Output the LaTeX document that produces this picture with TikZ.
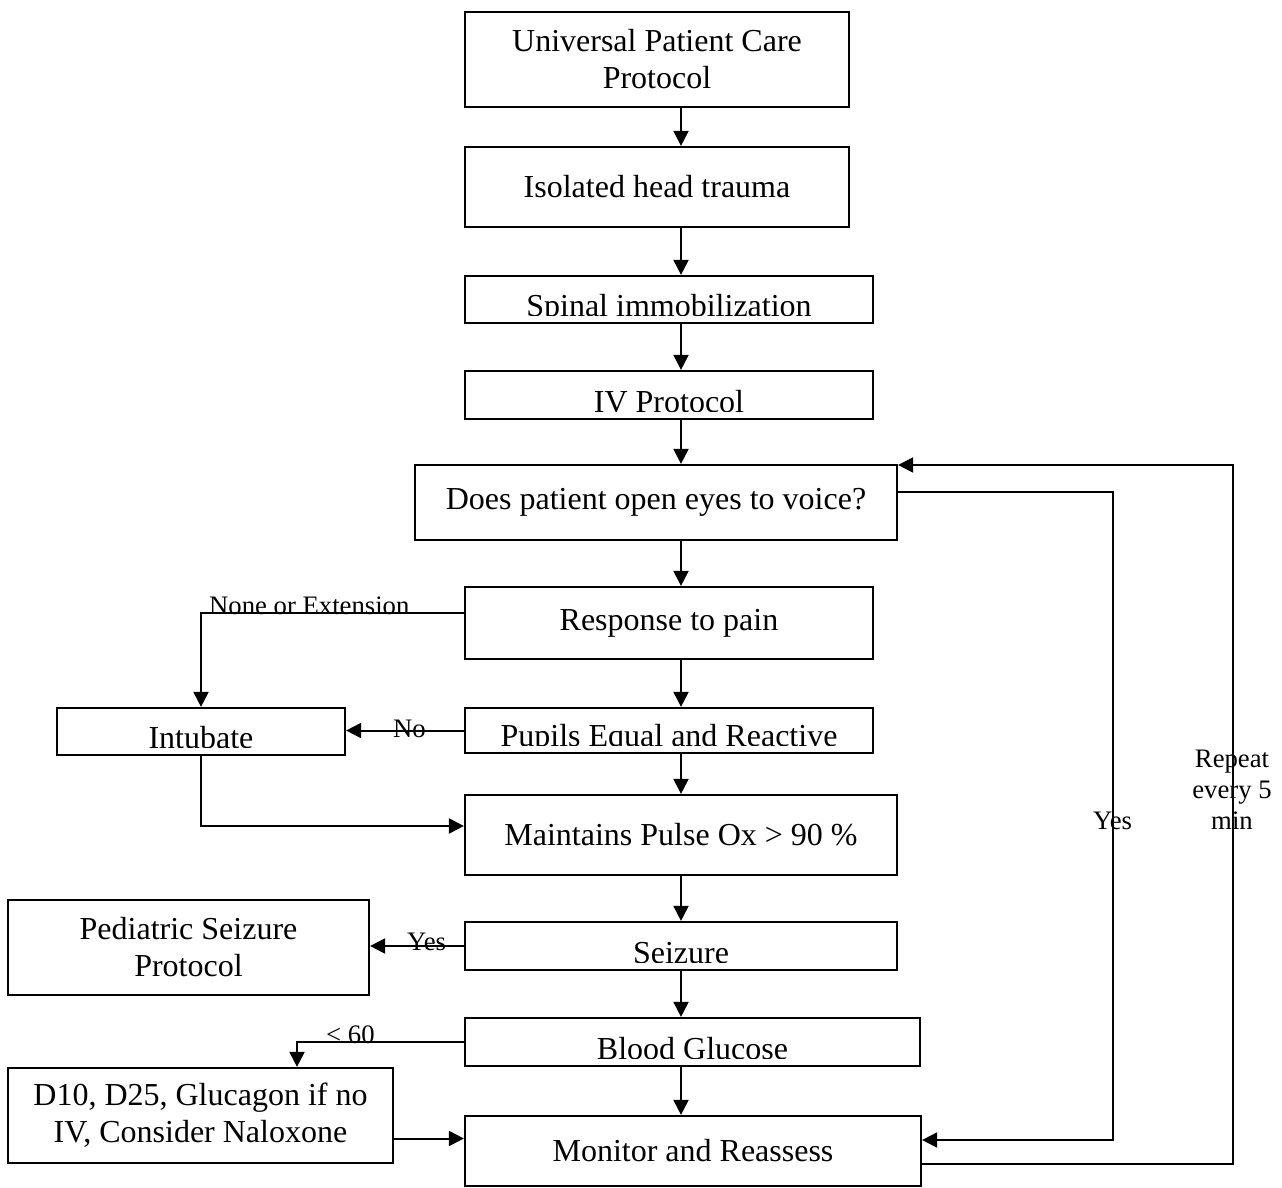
\documentclass[tikz,border=0pt]{standalone}
\usepackage{fontspec}
\setmainfont{Liberation Serif}
\usetikzlibrary{arrows.meta}

\tikzset{
  box/.style={draw, line width=2.2pt, inner sep=0pt, align=center,
              font=\fontsize{32}{37}\selectfont},
  boxtext/.style={inner sep=0pt, font=\fontsize{32}{37}\selectfont},
  lbl/.style={inner sep=0pt, align=center, font=\fontsize{26.7}{31}\selectfont},
  flow/.style={line width=2pt, -{Triangle[length=15pt,width=15pt]}},
  plain/.style={line width=2pt}
}

% box given by its corners (x1,y1) (x2,y2), text centred
\newcommand\flowbox[6]{%
  \node[box, minimum width={(#4-#2)*1pt}, minimum height={(#5-#3)*1pt}]
    (#1) at ({(#2+#4)/2},{(#3+#5)/2}) {#6};}
% box whose one-line text sits low and is cut off by the lower edge
\newcommand\cutbox[6]{%
  \node[box, minimum width={(#4-#2)*1pt}, minimum height={(#5-#3)*1pt}]
    (#1) at ({(#2+#4)/2},{(#3+#5)/2}) {};
  \begin{scope}
    \clip (#2,#3) rectangle (#4,{#5-8});
    \node[boxtext, anchor=base] (#1-t) at ({(#2+#4)/2},{#5-7}) {#6};
  \end{scope}}

\begin{document}
\begin{tikzpicture}[x=1pt, y=-1pt]
\useasboundingbox (0,0) rectangle (1282,1188);

% main column
\flowbox{upc}{465}{12}{849}{107}{Universal Patient Care\\Protocol}
\flowbox{iht}{465}{147}{849}{227}{Isolated head trauma}
\cutbox{spi}{465}{276}{873}{323}{Spinal immobilization}
\cutbox{ivp}{465}{371}{873}{419}{IV Protocol}
\flowbox{eye}{415}{465}{897}{540}{Does patient open eyes to voice?}
\flowbox{pain}{465}{587}{873}{659}{Response to pain}
\cutbox{pup}{465}{708}{873}{753}{Pupils Equal and Reactive}
\flowbox{pox}{465}{795}{897}{875}{Maintains Pulse Ox > 90 \%}
\cutbox{sz}{465}{922}{897}{970}{Seizure}
\cutbox{bg}{465}{1018}{920}{1066}{Blood Glucose}
\flowbox{mon}{465}{1116}{921}{1186}{Monitor and Reassess}

% side boxes
\cutbox{intub}{57}{708}{345}{755}{Intubate}
\flowbox{ped}{8}{900}{369}{995}{Pediatric Seizure\\Protocol}
\flowbox{dex}{8}{1068}{393}{1163}{D10, D25, Glucagon if no\\IV, Consider Naloxone}

% routing points
\coordinate (spine) at (681,0);
\coordinate (yesturn) at (1113,1140);
\coordinate (rpt) at (1233,465);
\coordinate (dexout) at ([yshift=-23pt]dex.east);

% main chain
\draw[flow] (upc.south -| spine) -- (iht.north -| spine);
\draw[flow] (iht.south -| spine) -- (spi.north -| spine);
\draw[flow] (spi.south -| spine) -- (ivp.north -| spine);
\draw[flow] (ivp.south -| spine) -- (eye.north -| spine);
\draw[flow] (eye.south -| spine) -- (pain.north -| spine);
\draw[flow] (pain.south -| spine) -- (pup.north -| spine);
\draw[flow] (pup.south -| spine) -- (pox.north -| spine);
\draw[flow] (pox.south -| spine) -- (sz.north -| spine);
\draw[flow] (sz.south -| spine) -- (bg.north -| spine);
\draw[flow] (bg.south -| spine) -- (mon.north -| spine);

% branches
\draw[flow] ([yshift=10pt]pain.west) -| (intub.north);
\draw[flow] (pup.west) -- (pup.west -| intub.east);
\draw[flow] (intub.south) |- ([yshift=9pt]pox.west);
\draw[flow] (sz.west) -- (sz.west -| ped.east);
\draw[flow] (bg.west) -| ([xshift=96.5pt]dex.north);
\draw[flow] (dexout) -- (dexout -| mon.west);

% loops back up on the right
\draw[flow] ([yshift=11pt]eye.east) -| (yesturn) -- (yesturn -| mon.east);
\draw[flow] ([yshift=-13pt]mon.east) -| (rpt) -- (rpt -| eye.east);

% labels
\node[lbl, anchor=base west] (lnone) at (209,614) {None or Extension};
\node[lbl, anchor=base west] (lno) at (393,737) {No};
\node[lbl, anchor=base west] (lyes) at (407,950) {Yes};
\node[lbl, anchor=base west] (llow) at (326,1043) {< 60};
\node[lbl, anchor=base west] (lyes2) at (1093,829) {Yes};
\node[lbl] (lrep) at (1232,790) {Repeat\\every 5\\min};
\end{tikzpicture}
\end{document}
